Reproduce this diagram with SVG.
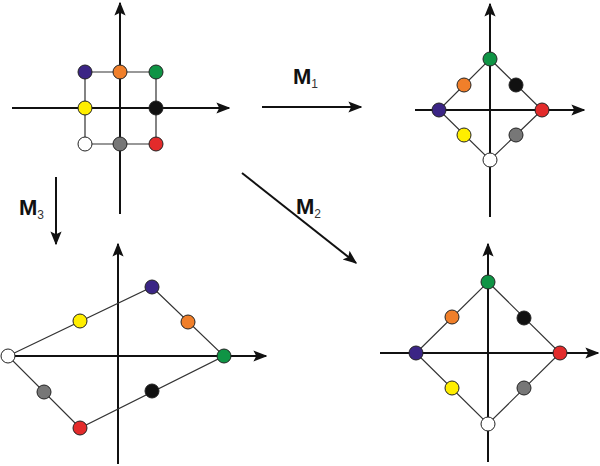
<svg xmlns="http://www.w3.org/2000/svg" width="600" height="466" viewBox="0 0 600 466">
<style>
.ax{stroke:#111;stroke-width:2;fill:none;marker-end:url(#ah)}
.ed{stroke:#333;stroke-width:1.2;fill:none}
circle{stroke:#222;stroke-width:1}
.lb{font-family:"Liberation Sans",Arial,sans-serif;font-weight:bold;font-size:22px;fill:#111}
.sb{font-family:"Liberation Sans",Arial,sans-serif;font-weight:normal;font-size:12px;fill:#333}
</style>
<defs>
<marker id="ah" viewBox="0 0 10 10" refX="9" refY="5" markerWidth="7" markerHeight="7" orient="auto" markerUnits="strokeWidth"><path d="M0,1 L10,5 L0,9 L2,5 z" fill="#111"/></marker>
</defs>
<rect width="600" height="466" fill="#fff"/>
<g id="original">
<line class="ax" x1="120" y1="214" x2="120" y2="3"/>
<line class="ax" x1="12" y1="108" x2="229" y2="108"/>
<path class="ed" d="M85,72 H156 V144 H85 Z"/>
<circle cx="85" cy="72" r="7" fill="#3b2585"/><circle cx="120" cy="72" r="7" fill="#f07f2a"/><circle cx="156" cy="72" r="7" fill="#0f9445"/>
<circle cx="85" cy="108" r="7" fill="#ffee00"/><circle cx="156" cy="108" r="7" fill="#111"/>
<circle cx="85" cy="144" r="7" fill="#fff"/><circle cx="120" cy="144" r="7" fill="#777"/><circle cx="156" cy="144" r="7" fill="#e32b2b"/>
</g>
<g id="m1result">
<line class="ax" x1="490" y1="217" x2="490" y2="4"/>
<line class="ax" x1="415" y1="110" x2="584" y2="110"/>
<path class="ed" d="M490,59 L542,110 L490,160 L439,110 Z"/>
<circle cx="490" cy="59" r="7" fill="#0f9445"/><circle cx="464" cy="85" r="7" fill="#f07f2a"/><circle cx="516" cy="85" r="7" fill="#111"/>
<circle cx="439" cy="110" r="7" fill="#3b2585"/><circle cx="542" cy="110" r="7" fill="#e32b2b"/>
<circle cx="464" cy="135" r="7" fill="#ffee00"/><circle cx="516" cy="135" r="7" fill="#777"/><circle cx="490" cy="160" r="7" fill="#fff"/>
</g>
<g id="m2result">
<line class="ax" x1="488" y1="462" x2="488" y2="244"/>
<line class="ax" x1="380" y1="353" x2="598" y2="353"/>
<path class="ed" d="M488,282 L560,353 L488,424 L416,353 Z"/>
<circle cx="488" cy="282" r="7" fill="#0f9445"/><circle cx="452" cy="317" r="7" fill="#f07f2a"/><circle cx="524" cy="318" r="7" fill="#111"/>
<circle cx="416" cy="353" r="7" fill="#3b2585"/><circle cx="560" cy="353" r="7" fill="#e32b2b"/>
<circle cx="452" cy="388" r="7" fill="#ffee00"/><circle cx="524" cy="388" r="7" fill="#777"/><circle cx="488" cy="424" r="7" fill="#fff"/>
</g>
<g id="m3result">
<line class="ax" x1="118" y1="464" x2="118" y2="244"/>
<line class="ax" x1="10" y1="356" x2="266" y2="356"/>
<path class="ed" d="M8,356 L152,287 L224,356 L80,428 Z"/>
<circle cx="8" cy="356" r="7" fill="#fff"/><circle cx="80" cy="321" r="7" fill="#ffee00"/><circle cx="152" cy="287" r="7" fill="#3b2585"/>
<circle cx="188" cy="322" r="7" fill="#f07f2a"/><circle cx="224" cy="356" r="7" fill="#0f9445"/>
<circle cx="152" cy="391" r="7" fill="#111"/><circle cx="80" cy="428" r="7" fill="#e32b2b"/><circle cx="44" cy="392" r="7" fill="#777"/>
</g>
<g id="connectors">
<line class="ax" x1="262" y1="107" x2="361" y2="107"/>
<line class="ax" x1="242" y1="173" x2="356" y2="263"/>
<line class="ax" x1="56" y1="177" x2="56" y2="244"/>
</g>
<text class="lb" x="293" y="84">M<tspan class="sb" dy="4">1</tspan></text>
<text class="lb" x="296" y="214">M<tspan class="sb" dy="4">2</tspan></text>
<text class="lb" x="19" y="215">M<tspan class="sb" dy="4">3</tspan></text>
</svg>
